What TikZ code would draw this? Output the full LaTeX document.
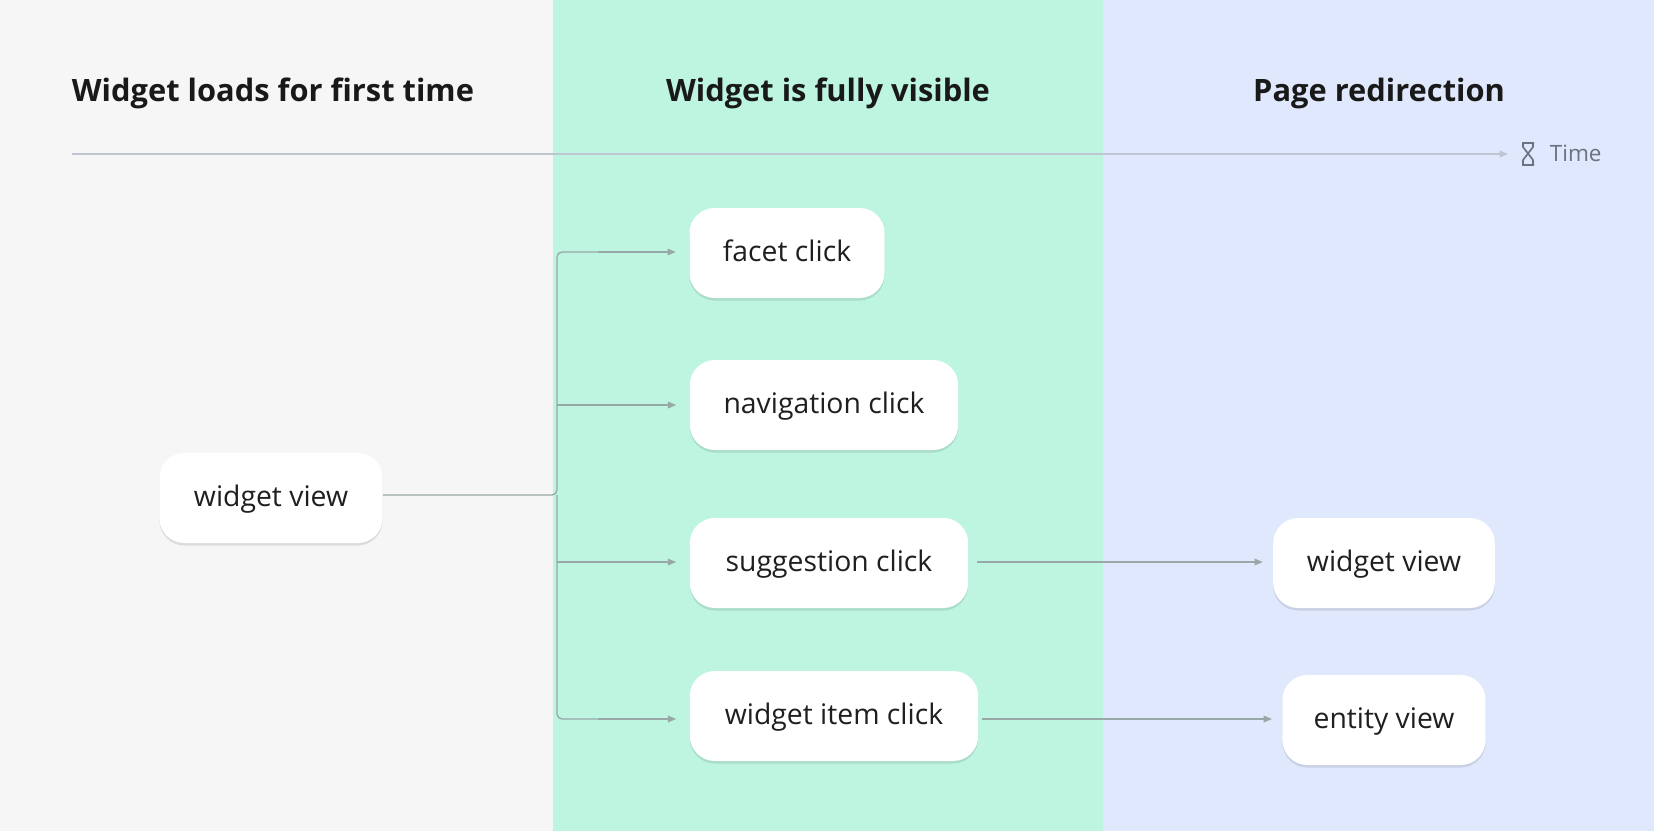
\documentclass[tikz,border=0pt]{standalone}
\usepackage{fontspec}
\setmainfont{Open Sans}
\usetikzlibrary{arrows.meta,shadows}
\definecolor{bgL}{HTML}{F6F6F6}
\definecolor{bgM}{HTML}{BEF5E1}
\definecolor{bgR}{HTML}{E0E8FD}
\definecolor{conn}{HTML}{98A8A6}
\definecolor{tline}{HTML}{BFC6D2}
\definecolor{ttext}{HTML}{6B7280}
\begin{document}
\begin{tikzpicture}[x=0.6pt,y=-0.6pt,
  box/.style={draw=none,fill=white,rounded corners=15pt,minimum height=54pt,
    font=\fontsize{17}{20}\selectfont,text=black!88,text height=12pt,text depth=2pt,
    drop shadow={shadow xshift=0pt,shadow yshift=-1.5pt,opacity=0.10,fill=black}},
  head/.style={font=\fontsize{18.5}{22}\selectfont\bfseries,text=black!90},
  arr/.style={draw=conn,line width=0.8pt,-{Triangle[length=5pt,width=4pt]}},
  ln/.style={draw=conn,line width=0.8pt}]
\useasboundingbox (0,0) rectangle (1654,831);
\fill[bgL] (0,0) rectangle (553,831);
\fill[bgM] (553,0) rectangle (1103,831);
\fill[bgR] (1103,0) rectangle (1654,831);
\node[head,anchor=west] (h1) at (66,93) {Widget loads for first time};
\node[head] (h2) at (828,93) {Widget is fully visible};
\node[head] (h3) at (1379,93) {Page redirection};
\coordinate (t0) at (72,154);
\coordinate (t1) at (1508,154);
\draw[draw=tline,line width=0.8pt,-{Triangle[length=5pt,width=4pt]}] (t0) -- (t1);
% hourglass
\draw[ttext,line width=1pt,line join=round] (1522,143) -- (1534,143) (1522,165) -- (1534,165)
  (1523,143) -- (1523,147) -- (1533,160) -- (1533,165) (1533,143) -- (1533,147) -- (1523,160) -- (1523,165);
\node[anchor=west,text=ttext,font=\fontsize{13.5}{16}\selectfont] (time) at (1544,153) {Time};
\node[box,minimum width=134pt] (wv) at (271,498) {widget view};
\node[box,minimum width=117pt] (fc) at (787,253) {facet click};
\node[box,minimum width=161pt] (nc) at (824,405) {navigation click};
\node[box,minimum width=167pt] (sc) at (829,563) {suggestion click};
\node[box,minimum width=173pt] (wi) at (834,716) {widget item click};
\node[box,minimum width=133pt] (wv2) at (1384,563) {widget view};
\node[box,minimum width=122pt] (ev) at (1384,720) {entity view};
\coordinate (j) at (557,495);
\draw[ln,rounded corners=3pt] (wv.east |- j) -- (j) -- (557,252) -- (600,252);
\draw[arr] (598,252) -- ([xshift=-8pt]fc.west |- 0,252);
\draw[ln,rounded corners=3pt] (j) -- (557,719) -- (600,719);
\draw[arr] (557,405) -- ([xshift=-8pt]nc.west |- 0,405);
\draw[arr] (557,562) -- ([xshift=-8pt]sc.west |- 0,562);
\draw[arr] (598,719) -- ([xshift=-8pt]wi.west |- 0,719);
\draw[arr] ([xshift=5pt]sc.east |- 0,562) -- ([xshift=-6pt]wv2.west |- 0,562);
\draw[arr] ([xshift=2pt]wi.east |- 0,719) -- ([xshift=-6pt]ev.west |- 0,719);
\end{tikzpicture}
\end{document}
